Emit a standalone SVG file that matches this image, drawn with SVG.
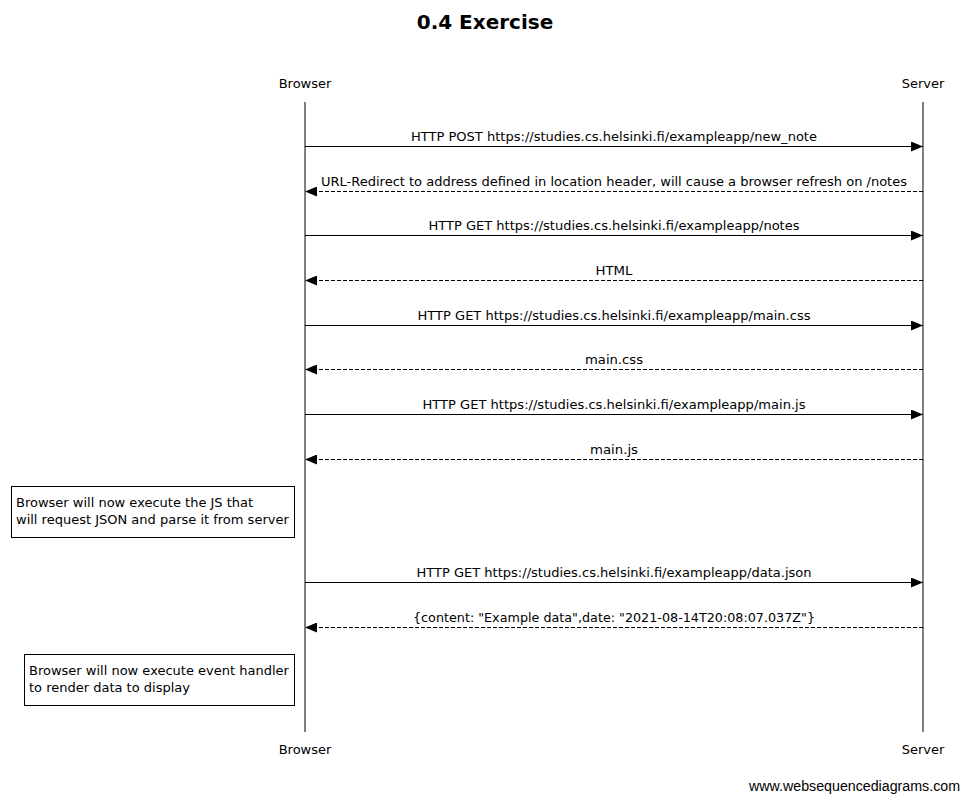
<svg xmlns="http://www.w3.org/2000/svg" width="969" height="802" viewBox="0 0 969 802">
<style>
text{font-family:"DejaVu Sans",sans-serif;font-size:13px;fill:#000}
.title{font-size:20px;font-weight:bold}
.lbl{text-anchor:middle}
.life{stroke:#000;stroke-width:1}
.msg{stroke:#000;stroke-width:1;fill:none}
.ret{stroke-dasharray:4,2}
.note rect{fill:#fff;stroke:#000;stroke-width:1}
.foot{font-family:"Liberation Sans",Arial,sans-serif;font-size:14px}
</style>
<defs>
<marker id="ah" markerWidth="12" markerHeight="10" refX="12" refY="5" orient="auto" markerUnits="userSpaceOnUse">
<path d="M0,0 L12,5 L0,10 Z" fill="#000"/>
</marker>
</defs>
<rect width="969" height="802" fill="#fff"/>
<text class="title lbl" x="485" y="29">0.4 Exercise</text>
<g id="browser">
<text class="lbl" x="305" y="88">Browser</text>
<line class="life" x1="305" y1="102" x2="305" y2="732"/>
<text class="lbl" x="305" y="754">Browser</text>
</g>
<g id="server">
<text class="lbl" x="923" y="88">Server</text>
<line class="life" x1="923" y1="102" x2="923" y2="732"/>
<text class="lbl" x="923" y="754">Server</text>
</g>
<g id="note1" class="note">
<rect x="11.5" y="486.5" width="283" height="51"/>
<text x="16" y="507">Browser will now execute the JS that</text>
<text x="16" y="524">will request JSON and parse it from server</text>
</g>
<g id="note2" class="note">
<rect x="24.5" y="654.5" width="270" height="51"/>
<text x="29" y="675">Browser will now execute event handler</text>
<text x="29" y="692">to render data to display</text>
</g>
<g id="connectors">
<line class="msg" x1="305" y1="146.5" x2="923" y2="146.5" marker-end="url(#ah)"/>
<text class="lbl" x="614" y="141" textLength="406" lengthAdjust="spacingAndGlyphs">HTTP POST https://studies.cs.helsinki.fi/exampleapp/new_note</text>
<line class="msg ret" x1="923" y1="191.5" x2="305" y2="191.5" marker-end="url(#ah)"/>
<text class="lbl" x="614" y="186" textLength="586" lengthAdjust="spacingAndGlyphs">URL-Redirect to address defined in location header, will cause a browser refresh on /notes</text>
<line class="msg" x1="305" y1="235.5" x2="923" y2="235.5" marker-end="url(#ah)"/>
<text class="lbl" x="614" y="230" textLength="371" lengthAdjust="spacingAndGlyphs">HTTP GET https://studies.cs.helsinki.fi/exampleapp/notes</text>
<line class="msg ret" x1="923" y1="280.5" x2="305" y2="280.5" marker-end="url(#ah)"/>
<text class="lbl" x="614" y="275" textLength="37" lengthAdjust="spacingAndGlyphs">HTML</text>
<line class="msg" x1="305" y1="325.5" x2="923" y2="325.5" marker-end="url(#ah)"/>
<text class="lbl" x="614" y="320" textLength="393" lengthAdjust="spacingAndGlyphs">HTTP GET https://studies.cs.helsinki.fi/exampleapp/main.css</text>
<line class="msg ret" x1="923" y1="369.5" x2="305" y2="369.5" marker-end="url(#ah)"/>
<text class="lbl" x="614" y="364" textLength="58" lengthAdjust="spacingAndGlyphs">main.css</text>
<line class="msg" x1="305" y1="414.5" x2="923" y2="414.5" marker-end="url(#ah)"/>
<text class="lbl" x="614" y="409" textLength="383" lengthAdjust="spacingAndGlyphs">HTTP GET https://studies.cs.helsinki.fi/exampleapp/main.js</text>
<line class="msg ret" x1="923" y1="459.5" x2="305" y2="459.5" marker-end="url(#ah)"/>
<text class="lbl" x="614" y="454" textLength="48" lengthAdjust="spacingAndGlyphs">main.js</text>
<line class="msg" x1="305" y1="582.5" x2="923" y2="582.5" marker-end="url(#ah)"/>
<text class="lbl" x="614" y="577" textLength="395" lengthAdjust="spacingAndGlyphs">HTTP GET https://studies.cs.helsinki.fi/exampleapp/data.json</text>
<line class="msg ret" x1="923" y1="627.5" x2="305" y2="627.5" marker-end="url(#ah)"/>
<text class="lbl" x="614" y="622" textLength="402" lengthAdjust="spacingAndGlyphs">{content: "Example data",date: "2021-08-14T20:08:07.037Z"}</text>
</g>
<text class="foot" x="749" y="791" textLength="211" lengthAdjust="spacingAndGlyphs">www.websequencediagrams.com</text>
</svg>
